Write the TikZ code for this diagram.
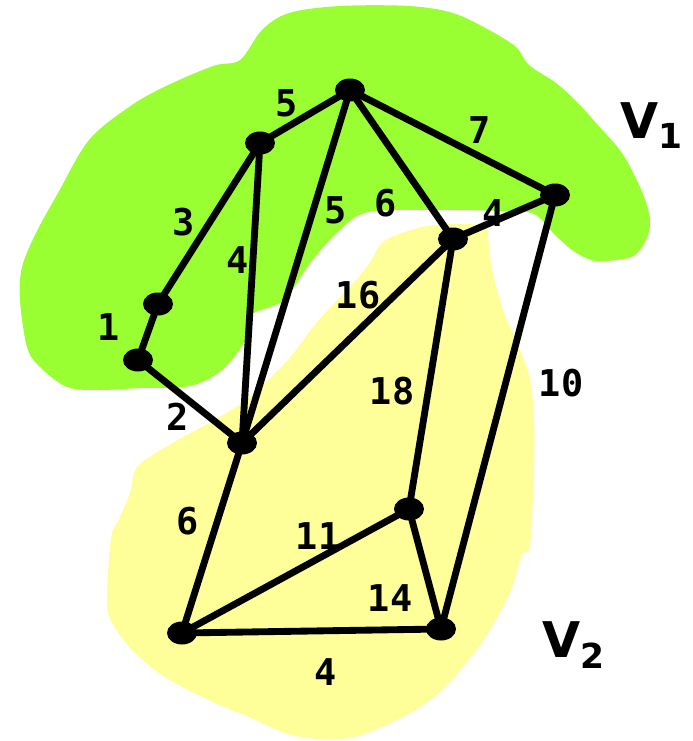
\documentclass[tikz,border=0pt]{standalone}
\usepackage{fontspec}
\usetikzlibrary{shapes.geometric,backgrounds}
\newfontfamily\wtfont{DejaVu Sans Mono}
\newfontfamily\setlabfont{DejaVu Sans}
\definecolor{greenset}{HTML}{99FF33}
\definecolor{yellowset}{HTML}{FFFF99}

\begin{document}
\begin{tikzpicture}[
  x=0.02cm, y=-0.02cm,
  vtx/.style={ellipse, fill=black, minimum width=0.6cm, minimum height=0.46cm, inner sep=0pt},
  link/.style={line width=3.9pt, line cap=round},
  wt/.style={font=\wtfont\bfseries\fontsize{21}{21}\selectfont, inner sep=0pt},
  setlab/.style={font=\setlabfont\bfseries\fontsize{28}{28}\selectfont, inner sep=0pt},
]
\useasboundingbox (0,0) rectangle (693,741);
% -- vertices
\node[vtx] (va) at (350,90) {};
\node[vtx] (vb) at (260,143) {};
\node[vtx] (vc) at (555,195) {};
\node[vtx] (vd) at (453,239) {};
\node[vtx] (ve) at (158,304) {};
\node[vtx] (vf) at (138,360) {};
\node[vtx] (vg) at (242,443) {};
\node[vtx] (vh) at (409,509) {};
\node[vtx] (vi) at (182,633) {};
\node[vtx] (vj) at (441,629) {};
\begin{scope}[on background layer]
% -- the two vertex sets
\fill[yellowset] plot[smooth cycle, tension=0.55] coordinates {
  (418,228) (449,224) (484,226) (488,238) (492,269) (503,310) (518,345) (530,379)
  (534,421) (534,469) (530,545) (522,555) (511,590) (499,614) (480,645) (449,683)
  (426,703) (395,721) (349,738) (295,736) (249,717) (215,703) (168,679) (134,652)
  (111,621) (107,597) (111,538) (118,521) (130,493) (138,466) (176,441) (207,424)
  (242,403) (272,376) (292,355) (318,321) (357,279) (372,259) (384,241)};
\fill[greenset] plot[smooth cycle, tension=0.55] coordinates {
  (289,13) (340,6) (409,6) (453,13) (489,30) (516,47) (529,65) (556,83) (578,103)
  (596,123) (622,153) (640,187) (649,213) (649,232) (640,250) (628,258) (596,261)
  (575,252) (556,236) (534,214) (500,211) (440,210) (369,212) (340,230) (311,262)
  (284,300) (249,316) (245,341) (222,370) (190,386) (140,388) (100,390) (67,387)
  (40,367) (27,347) (20,300) (22,267) (36,233) (58,193) (89,140) (129,107) (164,87)
  (213,66) (240,60) (262,30)};
% -- edges
\draw[link] (va.center) -- (vb.center);
\draw[link] (va.center) -- (vc.center);
\draw[link] (va.center) -- (vd.center);
\draw[link] (va.center) -- (vg.center);
\draw[link] (vb.center) -- (ve.center);
\draw[link] (vb.center) -- (vg.center);
\draw[link] (ve.center) -- (vf.center);
\draw[link] (vf.center) -- (vg.center);
\draw[link] (vc.center) -- (vd.center);
\draw[link] (vc.center) -- (vj.center);
\draw[link] (vd.center) -- (vg.center);
\draw[link] (vd.center) -- (vh.center);
\draw[link] (vg.center) -- (vi.center);
\draw[link] (vi.center) -- (vh.center);
\draw[link] (vh.center) -- (vj.center);
\draw[link] (vi.center) -- (vj.center);
\end{scope}
% -- weights
\node[wt] (wab) at (287,103) {5};
\node[wt] (wac) at (480,130) {7};
\node[wt] (wag) at (336,210) {5};
\node[wt] (wad) at (386,203) {6};
\node[wt] (wbe) at (184,222) {3};
\node[wt] (wbg) at (238,260) {4};
\node[wt] (wcd) at (494,213) {4};
\node[wt] (wdg) at (358,295) {16};
\node[wt] (wef) at (109,327) {1};
\node[wt] (wdh) at (392,391) {18};
\node[wt] (wcj) at (561,383) {10};
\node[wt] (wfg) at (178,417) {2};
\node[wt] (wgi) at (188,521) {6};
\node[wt] (wih) at (318,536) {11};
\node[wt] (whj) at (390,598) {14};
\node[wt] (wij) at (326,672) {4};
% -- set names
\node[setlab] (vone) at (652,126) {V\textsubscript{1}};
\node[setlab] (vtwo) at (574,645) {V\textsubscript{2}};
\end{tikzpicture}
\end{document}
